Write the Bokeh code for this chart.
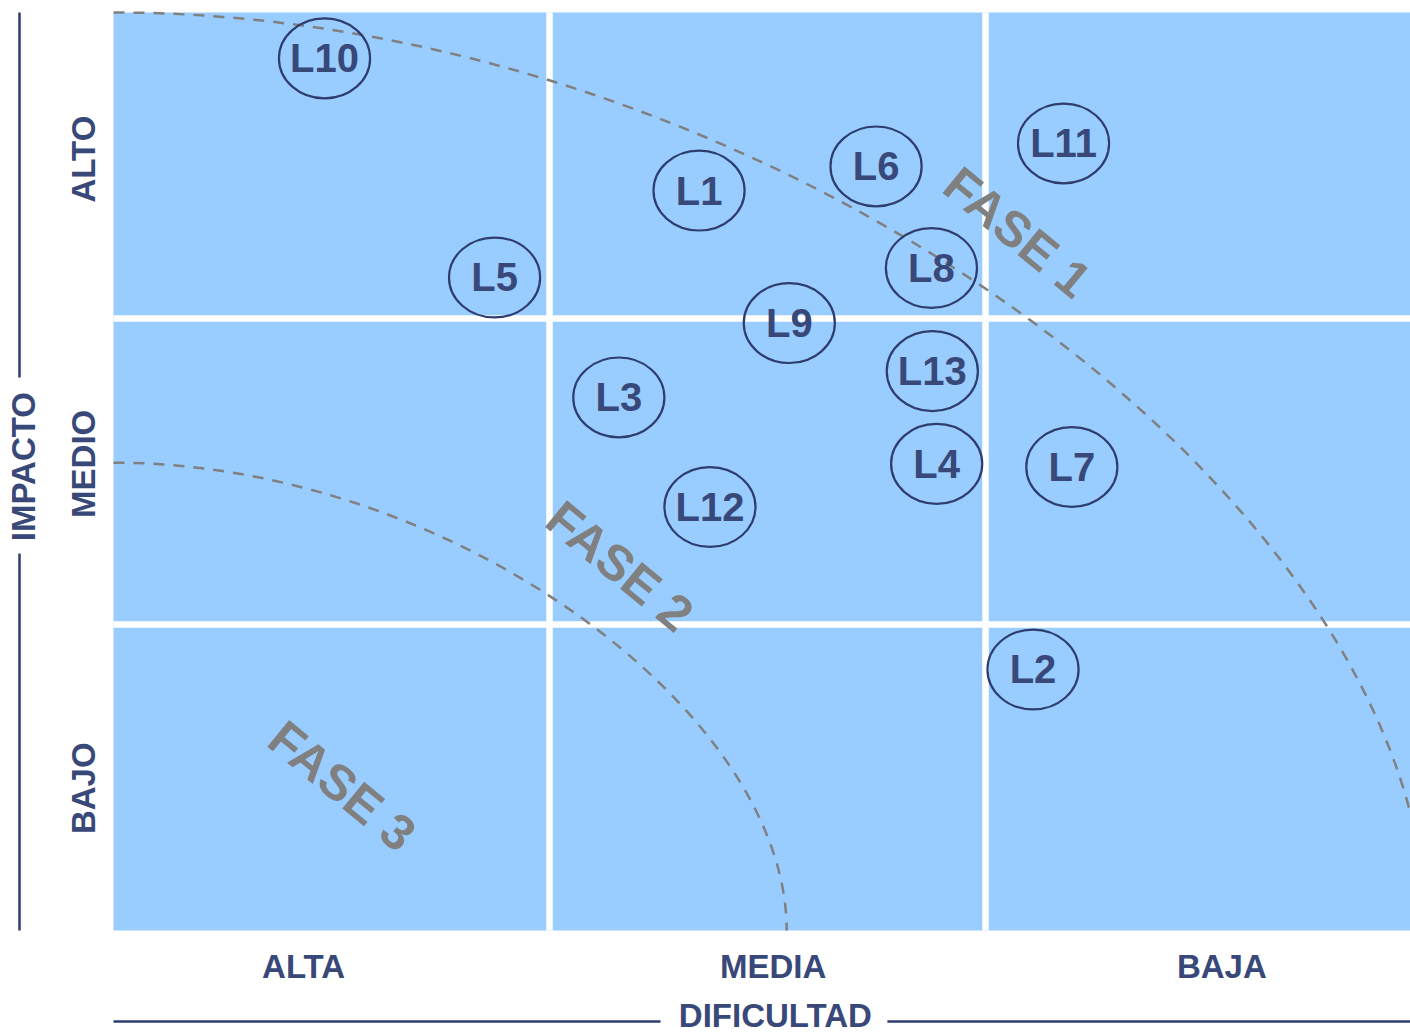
import math
from bokeh.plotting import figure
from bokeh.models import Range1d
from bokeh.core.properties import value
from bokeh.embed import file_html
from bokeh.resources import INLINE

# ---------------- data ----------------
labels = ["L10", "L1", "L6", "L11", "L5", "L8", "L9", "L13", "L3", "L4", "L7", "L12", "L2"]
dificultad = [0.484, 1.343, 1.749, 2.179, 0.874, 1.876, 1.550, 1.878, 1.159, 1.888, 2.198, 1.368, 2.109]
impacto = [2.850, 2.418, 2.497, 2.572, 2.134, 2.165, 1.985, 1.828, 1.742, 1.525, 1.515, 1.384, 0.853]

x_tick_labels = ["ALTA", "MEDIA", "BAJA"]
x_tick_pos = [0.436, 1.513, 2.542]
y_tick_labels = ["BAJO", "MEDIO", "ALTO"]
y_tick_pos = [0.465, 1.525, 2.521]
cell_breaks = [1.0, 2.0]
grid_max = 3.0

fase_names = ["FASE 1", "FASE 2", "FASE 3"]
fase_x = [2.073, 1.161, 0.524]
fase_y = [2.281, 1.190, 0.472]

arc_rx = [3.01, 1.544]
arc_ry = [3.00, 1.529]

x_title = "DIFICULTAD"
y_title = "IMPACTO"

# ---------------- styles ----------------
BLUE = "#99CCFF"
NAVY = "#384878"
LINE_NAVY = "#2F3D6E"
GRAY = "#808080"
FONT = value("Liberation Sans")

p = figure(width=1410, height=1035, output_backend="svg", toolbar_location=None,
           x_axis_location=None, y_axis_location=None, title=None,
           x_range=Range1d(-0.25917, 2.97477), y_range=Range1d(-0.34314, 3.03922),
           min_border=0, outline_line_color=None,
           background_fill_color="white", border_fill_color="white")
p.grid.visible = False

# blue matrix
p.quad(left=[0], right=[grid_max], bottom=[0], top=[grid_max],
       fill_color=BLUE, line_color=None)

# white separators
p.segment(x0=cell_breaks, y0=[0, 0], x1=cell_breaks, y1=[grid_max, grid_max],
          line_color="white", line_width=6.5)
p.segment(x0=[0, 0], y0=cell_breaks, x1=[grid_max, grid_max], y1=cell_breaks,
          line_color="white", line_width=6.5)

# dashed phase arcs
p.bezier(x0=[0, 0], y0=arc_ry, x1=arc_rx, y1=[0, 0],
         cx0=[0.5 * r for r in arc_rx], cy0=arc_ry,
         cx1=arc_rx, cy1=[0.47 * r for r in arc_ry],
         line_color=GRAY, line_width=2.5, line_dash="11 9")

# phase labels
p.text(x=fase_x, y=fase_y, text=fase_names, angle=math.radians(-39.5),
       text_font=FONT, text_font_style="bold", text_font_size="50px",
       text_color=GRAY, text_align="center", text_baseline="middle")

# item ellipses and labels
p.ellipse(x=dificultad, y=impacto, width=0.209, height=0.261,
          fill_color=None, line_color=LINE_NAVY, line_width=2.2)
p.text(x=dificultad, y=impacto, text=labels,
       text_font=FONT, text_font_style="bold", text_font_size="40px",
       text_color=NAVY, text_align="center", text_baseline="middle")

# x category labels and title
p.text(x=x_tick_pos, y=[-0.1176] * 3, text=x_tick_labels,
       text_font=FONT, text_font_style="bold", text_font_size="33px",
       text_color=NAVY, text_align="center", text_baseline="alphabetic")
p.text(x=[1.518], y=[-0.2778], text=[x_title],
       text_font=FONT, text_font_style="bold", text_font_size="33px",
       text_color=NAVY, text_align="center", text_baseline="alphabetic")
p.segment(x0=[0, 1.775], y0=[-0.297, -0.297], x1=[1.2546, grid_max], y1=[-0.297, -0.297],
          line_color=LINE_NAVY, line_width=2.5)

# y category labels and title
p.text(x=[-0.0688] * 3, y=y_tick_pos, text=y_tick_labels, angle=math.pi / 2,
       text_font=FONT, text_font_style="bold", text_font_size="33px",
       text_color=NAVY, text_align="center", text_baseline="alphabetic")
p.text(x=[-0.2065], y=[1.516], text=[y_title], angle=math.pi / 2,
       text_font=FONT, text_font_style="bold", text_font_size="33px",
       text_color=NAVY, text_align="center", text_baseline="alphabetic")
p.segment(x0=[-0.2156, -0.2156], y0=[grid_max, 1.232], x1=[-0.2156, -0.2156], y1=[1.807, 0],
          line_color=LINE_NAVY, line_width=2.5)

open("out.html", "w").write(file_html(p, INLINE))
